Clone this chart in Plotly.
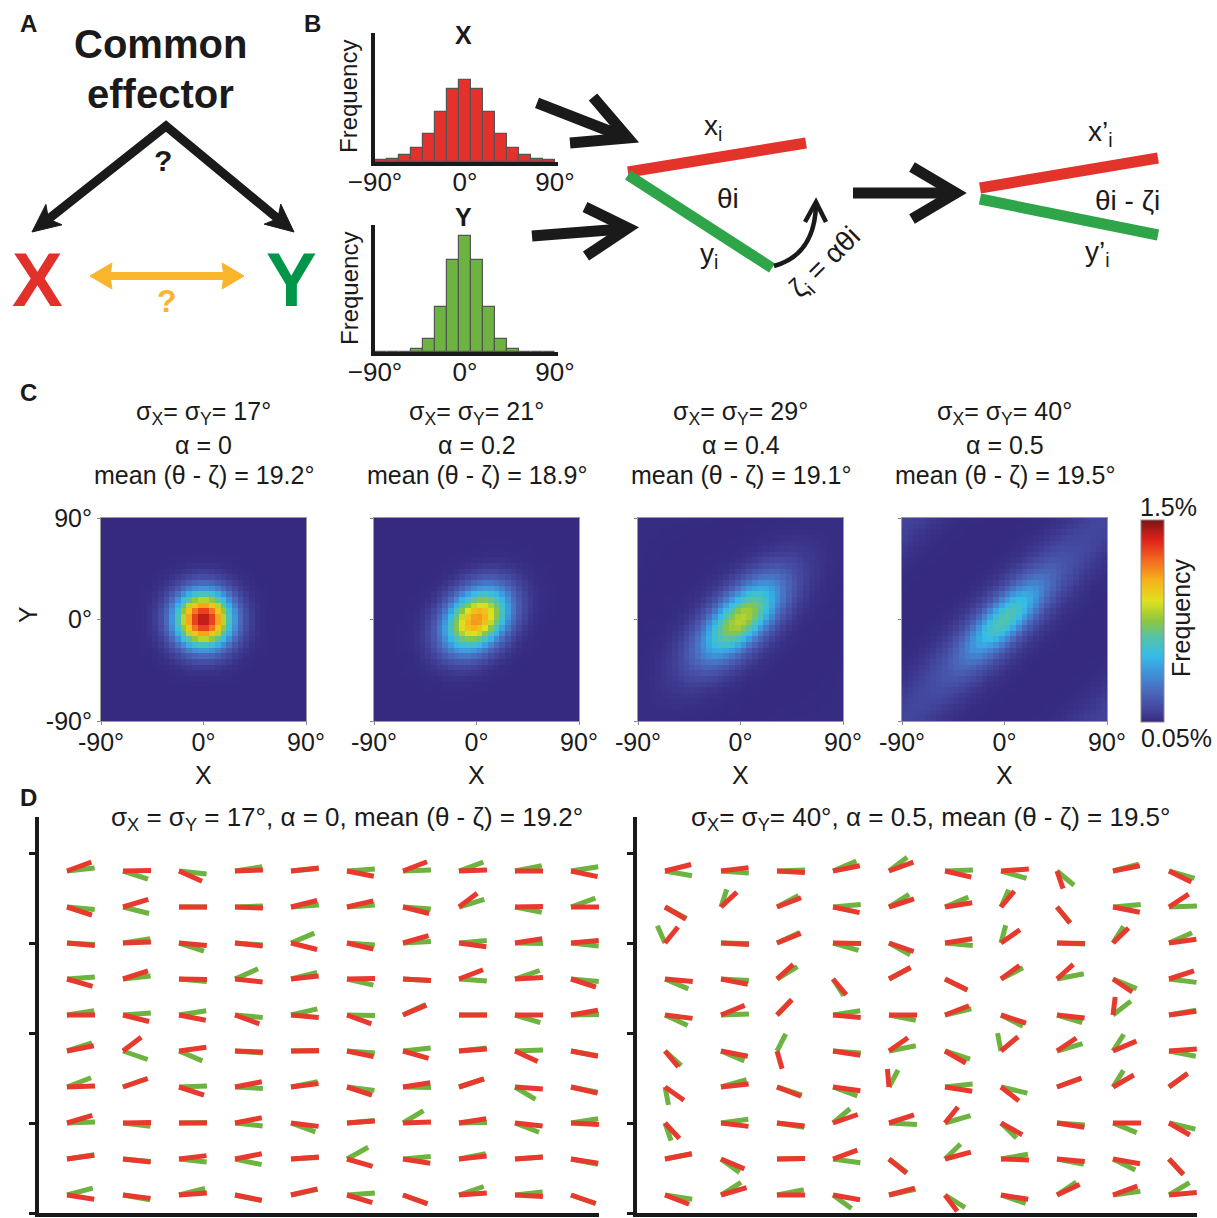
import numpy as np
import plotly.graph_objects as go

W, H = 1217, 1218
FONT = "Arial, 'Liberation Sans', Helvetica, sans-serif"
INK = "#1a1a1a"

# ------------------------------------------------------------------ data
# Panel B: histograms of X and Y orientations (12-degree bins, % of samples)
hist_bins = [-84, -72, -60, -48, -36, -24, -12, 0, 12, 24, 36, 48, 60, 72, 84]
hist_x_pct = [0.5, 0.8, 1.5, 3.1, 6.5, 11.5, 16.7, 18.8, 16.7, 11.5, 6.5, 3.1, 1.5, 0.8, 0.5]
hist_y_pct = [0, 0, 0, 0.6, 3.2, 10.7, 21.8, 27.5, 21.8, 10.7, 3.2, 0.6, 0, 0, 0]
hist_tick_vals = [-90, 0, 90]
hist_tick_text = ["\u221290\u00b0", "0\u00b0", "90\u00b0"]

# Panel C: joint X/Y frequency maps
heat_sigma = ["17", "21", "29", "40"]
heat_alpha = ["0", "0.2", "0.4", "0.5"]
heat_mean = ["19.2", "18.9", "19.1", "19.5"]
heat_peak_pct = [1.38, 1.08, 0.80, 0.60]      # value at the centre of each map
heat_core_share = [1.0, 1.0, 0.85, 0.7]       # share of the centre value in the core blob
heat_core_sd_diag = [17, 22, 30, 30]          # spread along X = Y (deg)
heat_core_sd_anti = [17, 16, 14, 11]          # spread across X = Y (deg)
heat_tail_sd_diag = [17, 22, 50, 75]          # faint halo along X = Y (deg)
heat_tail_sd_anti = [17, 16, 20, 17]
heat_floor_pct = 0.05
heat_max_pct = 1.5
heat_tick_vals = [-90, 0, 90]
heat_tick_text = ["-90\u00b0", "0\u00b0", "90\u00b0"]

# Panel D: orientations of the red (x') and green (y') bars, as drawn (deg)
left_red = [
    [20, 1, -24, 2, 6, -11, 21, 2, 0, -12],
    [-18, 17, 0, -2, 14, 13, -14, 37, 1, 0],
    [-5, 2, -5, -6, -14, -13, 16, -8, 9, 5],
    [-16, 18, -1, -6, 6, 1, -3, 21, 3, -18],
    [0, -14, -11, -20, -5, -20, 23, 0, 0, 10],
    [11, 37, 8, -2, 1, -12, -16, 4, -25, -11],
    [2, 19, -18, 11, 7, -18, 9, 18, -4, -13],
    [17, 1, 0, 11, -7, 4, 2, 9, -6, -3],
    [8, -6, 7, 11, 4, -16, -9, 6, 4, -9],
    [-9, -7, 4, -11, 13, -17, -20, 4, -3, -19],
]
left_green = [
    [6, -18, -6, 9, 5, 4, 2, 20, 11, 9],
    [-5, -14, 0, 2, 4, 4, -4, 17, -11, 20],
    [-3, 9, -18, -4, 23, -4, 3, 5, -1, -6],
    [4, 6, -5, 24, 14, -13, -3, -4, 19, -5],
    [9, 4, 9, -5, 13, -1, 25, 0, -17, 1],
    [18, -19, -23, -4, 0, -4, 6, 6, 2, -10],
    [21, 19, 2, -3, 11, -7, -1, 18, -31, -11],
    [2, -7, 1, -6, -20, 5, 31, 1, -21, 9],
    [9, -5, -6, -12, 3, 29, 5, 11, 4, -11],
    [15, -10, 14, -12, 12, 4, -19, 19, 6, -19],
]
right_red = [
    [14, 7, -3, 11, 20, -13, 4, -71, 11, -26],
    [-30, 43, 21, -12, 18, 9, 50, -51, -11, 33],
    [51, -3, 22, -1, -19, 9, 35, -1, 44, 8],
    [-5, -11, 42, -50, 28, -26, 36, 42, -34, 18],
    [-7, 22, 46, -5, 0, 21, -18, -6, 83, 8],
    [-50, -11, -74, -9, 35, -30, 40, 34, 23, 4],
    [-35, 6, -21, -8, 95, -9, -38, 20, 30, 36],
    [-47, -7, -6, 19, 18, 51, -29, -9, 0, -30],
    [11, -23, 1, 20, -39, 15, -2, -5, -10, -47],
    [-21, 16, 0, -10, 15, -53, -9, 25, 20, 5],
]
right_green = [
    [-10, -4, 2, 23, 37, 2, -16, -40, 15, -16],
    [-28, 72, 28, 5, 32, 23, 66, -50, 5, 2],
    [114, -1, 25, -16, -29, -5, 75, -2, 58, 24],
    [-23, -3, 31, -57, 28, -26, 27, 11, -22, -7],
    [-25, 2, 46, 9, -11, 13, -27, -17, 38, 10],
    [-42, -23, 63, -4, 11, -18, 101, 16, 57, -11],
    [-79, 16, -18, -20, 62, 6, -13, 20, 58, 36],
    [-71, 8, -9, 40, -3, 16, -44, -4, -22, -13],
    [11, -36, 1, -8, -37, 44, 10, -11, -26, -47],
    [-9, 32, 11, -36, 12, -32, -19, 34, 8, 31],
]
d_titles = [
    "\u03c3<sub>X</sub> = \u03c3<sub>Y</sub> = 17\u00b0, \u03b1 = 0, mean (\u03b8 - \u03b6) = 19.2\u00b0",
    "\u03c3<sub>X</sub>= \u03c3<sub>Y</sub>= 40\u00b0, \u03b1 = 0.5, mean (\u03b8 - \u03b6) = 19.5\u00b0",
]

# ------------------------------------------------------------------ helpers
def X(p):
    return p / W


def Y(p):
    return 1 - p / H


ann = []
shapes = []


def text(x, y, s, size=25, color=INK, bold=False, angle=0, xanchor="center", yanchor="middle"):
    if bold:
        s = "<b>" + s + "</b>"
    ann.append(dict(x=X(x), y=Y(y), xref="paper", yref="paper", text=s, showarrow=False,
                    font=dict(size=size, color=color, family=FONT), textangle=angle,
                    xanchor=xanchor, yanchor=yanchor))


def path(pts, color, width, fill=None, close=False):
    d = "M " + " L ".join("%.5f,%.5f" % (X(a), Y(b)) for a, b in pts)
    if close:
        d += " Z"
    shp = dict(type="path", xref="paper", yref="paper", path=d,
               line=dict(color=color, width=width), layer="above")
    if fill:
        shp["fillcolor"] = fill
    shapes.append(shp)


def head(tip, frm, length, half, notch, color):
    tx, ty = tip
    ux, uy = tx - frm[0], ty - frm[1]
    n = (ux ** 2 + uy ** 2) ** 0.5
    ux, uy = ux / n, uy / n
    px_, py_ = -uy, ux
    bx, by = tx - length * ux, ty - length * uy
    nx, ny = tx - (length - notch) * ux, ty - (length - notch) * uy
    pts = [(tx, ty), (bx + half * px_, by + half * py_), (nx, ny), (bx - half * px_, by - half * py_)]
    path(pts, color, 1, fill=color, close=True)
    return (nx + 2 * ux, ny + 2 * uy)


# ------------------------------------------------------------------ panel A
text(29, 24, "A", size=24, bold=True)
text(160, 44, "Common", size=40, bold=True)
text(160, 94, "effector", size=40, bold=True)
lend = head((32, 232), (166, 126), 28, 13, 7, INK)
rend = head((294, 232), (166, 126), 28, 13, 7, INK)
path([lend, (166, 126), rend], INK, 9)
text(163, 160, "?", size=30, bold=True)
text(37, 279, "X", size=76, bold=True, color="#e2302b")
text(291, 279, "Y", size=76, bold=True, color="#00964a")
ORANGE = "#f9b52c"
l2 = head((90, 276), (167, 276), 22, 13, 2, ORANGE)
r2 = head((244, 276), (167, 276), 22, 13, 2, ORANGE)
path([l2, r2], ORANGE, 8)
text(167, 301, "?", size=32, color=ORANGE, bold=True)

# ------------------------------------------------------------------ panel B
text(312, 24, "B", size=24, bold=True)
text(464, 35, "X", size=25, bold=True)
text(464, 217, "Y", size=25, bold=True)
text(349, 97, "Frequency", size=24, angle=-90)
text(349, 289, "Frequency", size=24, angle=-90)

# arrows into/out of the diagram
path([(537, 103), (622, 136)], INK, 11)
path([(593, 97), (628, 138), (570, 143)], INK, 11)
path([(532, 236), (622, 229)], INK, 11)
path([(585, 207), (628, 228), (586, 256)], INK, 11)
path([(853, 193), (950, 193)], INK, 11)
path([(912, 167), (956, 193), (912, 219)], INK, 11)

# diagram 1
path([(628, 172), (806, 143)], "#e3342b", 11)
path([(628, 175), (772, 268)], "#2ea548", 11)
text(713, 128, "x<sub>i</sub>", size=28)
text(728, 199, "\u03b8i", size=28)
text(709, 255, "y<sub>i</sub>", size=28)
shapes.append(dict(type="path", xref="paper", yref="paper", layer="above",
                   path="M %.5f,%.5f Q %.5f,%.5f %.5f,%.5f" % (X(774), Y(266), X(814), Y(255), X(816), Y(206)),
                   line=dict(color=INK, width=4.5)))
path([(805, 222), (816, 202), (826, 222)], INK, 4.5)
text(826, 264, "\u03b6<sub>i</sub> = \u03b1\u03b8i", size=28, angle=-45)

# diagram 2
path([(980, 188), (1158, 158)], "#e3342b", 11)
path([(980, 199), (1158, 235)], "#2ea548", 11)
text(1100, 133, "x\u2019<sub>i</sub>", size=28)
text(1127, 200, "\u03b8i - \u03b6i", size=28)
text(1097, 253, "y\u2019<sub>i</sub>", size=28)

# ------------------------------------------------------------------ figure
fig = go.Figure()
layout = {}

hist_specs = [("x", "y", hist_x_pct, "#e5312b", (33, 162), 29.5),
              ("x2", "y2", hist_y_pct, "#6cb43f", (225, 352), 30.1)]
for i, (xa, ya, vals, col, (top, bot), ymax) in enumerate(hist_specs):
    fig.add_trace(go.Bar(x=hist_bins, y=vals, width=12, xaxis=xa, yaxis=ya,
                         marker=dict(color=col, line=dict(color="#555555", width=1.2)),
                         hoverinfo="skip"))
    k = "" if i == 0 else str(i + 1)
    layout["xaxis" + k] = dict(domain=[X(375), X(558)], range=[-90, 93], anchor=ya,
                               showline=True, linewidth=3.5, linecolor=INK, ticks="",
                               tickvals=hist_tick_vals, ticktext=hist_tick_text,
                               ticklabelstandoff=-6,
                               tickfont=dict(size=26, color=INK), showgrid=False, zeroline=False)
    layout["yaxis" + k] = dict(domain=[Y(bot), Y(top)], range=[0, ymax], anchor=xa,
                               showline=True, linewidth=3.5, linecolor=INK, ticks="",
                               showticklabels=False, showgrid=False, zeroline=False)

# ------------------------------------------------------------------ panel C
text(29, 392, "C", size=24, bold=True)
COLORSCALE = [
    [0.0, "#352a7f"], [0.06, "#43459c"], [0.15, "#4a68bb"], [0.25, "#3f95dc"],
    [0.33, "#35bde6"], [0.42, "#55c3a8"], [0.5, "#8cc63f"], [0.6, "#e0e01f"],
    [0.7, "#f7b21c"], [0.8, "#f26a21"], [0.9, "#e1221c"], [1.0, "#7c1315"],
]
centers = np.arange(-87.5, 90, 5.0)
GX, GY = np.meshgrid(centers, centers)
heat_left = [101, 374, 638, 902]


def blob(sd_u, sd_v):
    acc = np.zeros_like(GX)
    for sx in (-180, 0, 180):
        for sy in (-180, 0, 180):
            u = ((GX + sx) + (GY + sy)) / np.sqrt(2)
            v = ((GY + sy) - (GX + sx)) / np.sqrt(2)
            acc += np.exp(-0.5 * (u / sd_u) ** 2 - 0.5 * (v / sd_v) ** 2)
    return acc


for i in range(4):
    share = heat_core_share[i]
    z = heat_floor_pct + heat_peak_pct[i] * (
        share * blob(heat_core_sd_diag[i], heat_core_sd_anti[i])
        + (1 - share) * blob(heat_tail_sd_diag[i], heat_tail_sd_anti[i]))
    xa, ya = "x%d" % (i + 3), "y%d" % (i + 3)
    tr = go.Heatmap(x=centers, y=centers, z=z, xaxis=xa, yaxis=ya, colorscale=COLORSCALE,
                    zmin=heat_floor_pct, zmax=heat_max_pct, zsmooth=False, hoverinfo="skip",
                    showscale=(i == 0))
    if i == 0:
        tr.colorbar = dict(x=X(1141), xanchor="left", y=Y(722), yanchor="bottom",
                           len=(722 - 520) / H, lenmode="fraction", thickness=23,
                           thicknessmode="pixels", xpad=0, ypad=0, showticklabels=False,
                           ticks="", outlinewidth=1, outlinecolor="#8a8a8a")
    fig.add_trace(tr)
    x0 = heat_left[i]
    layout["xaxis%d" % (i + 3)] = dict(domain=[X(x0), X(x0 + 205)], range=[-90, 90], anchor=ya,
                                       tickvals=heat_tick_vals, ticktext=heat_tick_text,
                                       ticks="outside", ticklen=3, tickcolor="#888",
                                       ticklabelstandoff=-4,
                                       tickfont=dict(size=25, color=INK),
                                       showline=True, mirror=True, linecolor="#9a9a9a", linewidth=1,
                                       showgrid=False, zeroline=False)
    layout["yaxis%d" % (i + 3)] = dict(domain=[Y(721), Y(518)], range=[-90, 90], anchor=xa,
                                       tickvals=heat_tick_vals, ticktext=heat_tick_text,
                                       ticks="outside", ticklen=3, tickcolor="#888",
                                       showticklabels=(i == 0), tickfont=dict(size=25, color=INK),
                                       showline=True, mirror=True, linecolor="#9a9a9a", linewidth=1,
                                       showgrid=False, zeroline=False)
    cx = x0 + 102.5
    text(cx, 413, "\u03c3<sub>X</sub>= \u03c3<sub>Y</sub>= %s\u00b0" % heat_sigma[i], size=25)
    text(cx, 445, "\u03b1 = %s" % heat_alpha[i], size=25)
    text(cx, 475, "mean (\u03b8 - \u03b6) = %s\u00b0" % heat_mean[i], size=25)
    text(cx, 775, "X", size=25)

text(28, 615, "Y", size=25, angle=-90)
text(1168, 507, "1.5%", size=25)
text(1176, 738, "0.05%", size=25)
text(1181, 618, "Frequency", size=25, angle=-90)

# ------------------------------------------------------------------ panel D
text(29, 797, "D", size=24, bold=True)
UX, UY = 28.0, 18.0   # pixels per data unit on the glyph axes
for p, (reds, greens, left) in enumerate([(left_red, left_green, 39), (right_red, right_green, 637)]):
    xa, ya = "x%d" % (p + 7), "y%d" % (p + 7)
    for vals, col in ((greens, "#6cb33f"), (reds, "#e8392e")):
        xs, ys = [], []
        for r in range(10):
            for c in range(10):
                phi = np.radians(vals[r][c])
                th = np.arctan2(UX * np.sin(phi), UY * np.cos(phi))
                x0, y0 = 2 * c, 18 - 2 * r
                xs += [x0, x0 + np.cos(th), None]
                ys += [y0, y0 + np.sin(th), None]
        fig.add_trace(go.Scatter(x=xs, y=ys, mode="lines", xaxis=xa, yaxis=ya,
                                 line=dict(color=col, width=5), hoverinfo="skip"))
    layout["xaxis%d" % (p + 7)] = dict(domain=[X(left), X(left + 560)], range=[-1, 19], anchor=ya,
                                       showline=True, linewidth=3.5, linecolor=INK, ticks="",
                                       showticklabels=False, showgrid=False, zeroline=False)
    layout["yaxis%d" % (p + 7)] = dict(domain=[Y(1213), Y(1213 - 22 * UY)], range=[-1, 21], anchor=xa,
                                       showline=True, linewidth=3.5, linecolor=INK,
                                       ticks="outside", ticklen=6, tickwidth=2.5, tickcolor=INK,
                                       tickvals=[-1, 4, 9, 14, 19], showticklabels=False,
                                       showgrid=False, zeroline=False)
    text(left + 308 if p == 0 else left + 293, 818, d_titles[p], size=26)

fig.update_layout(width=W, height=H, margin=dict(l=0, r=0, t=0, b=0, autoexpand=False),
                  paper_bgcolor="white", plot_bgcolor="white", showlegend=False,
                  bargap=0, font=dict(family=FONT, size=25, color=INK),
                  shapes=shapes, annotations=ann, **layout)
fig.write_html("out.html", config={"displayModeBar": False})
